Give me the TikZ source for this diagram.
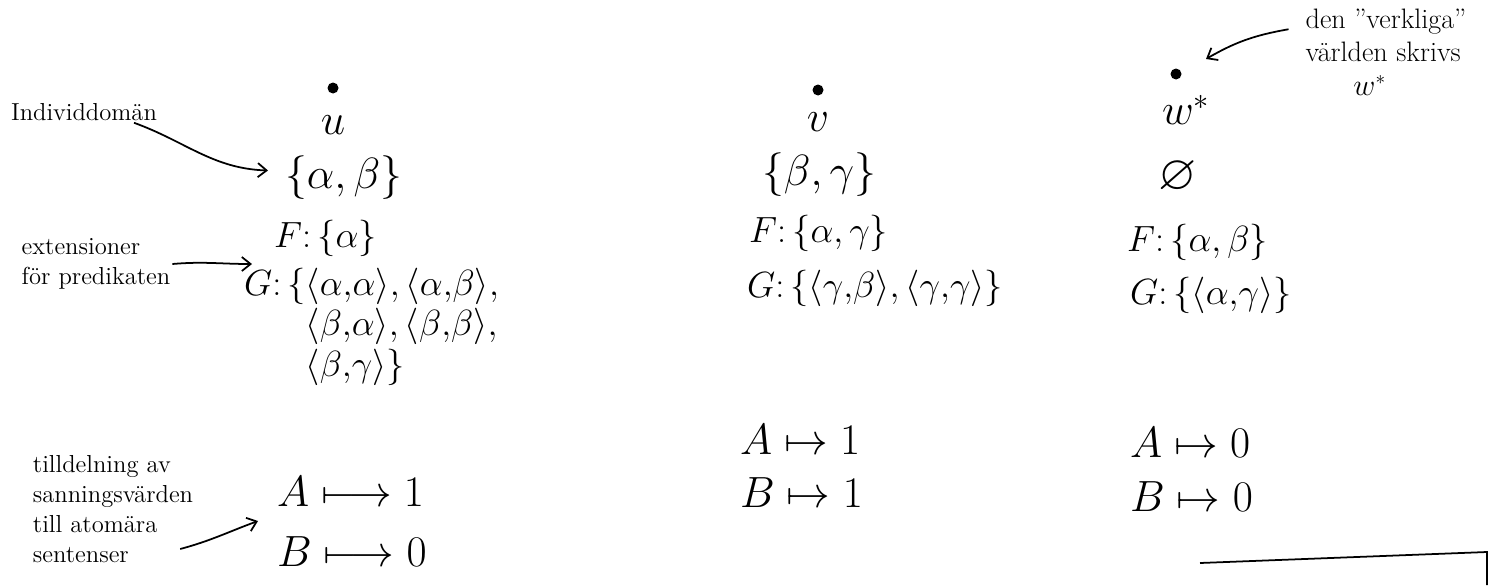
\documentclass[tikz,border=0pt]{standalone}
\usepackage{amssymb}
\usetikzlibrary{positioning, arrows.meta}

\begin{document}
\begin{tikzpicture}[
    x=0.02cm, y=-0.02cm,
    world/.style={circle, fill, inner sep=0pt, minimum size=0.22cm},
    wname/.style={font=\fontsize{24}{27}\selectfont, inner sep=1pt},
    ext/.style={font=\fontsize{24}{27}\selectfont, inner sep=1pt, anchor=west, align=left},
    fext/.style={ext, font=\fontsize{22}{25}\selectfont},
    gext/.style={ext, font=\fontsize{20}{23}\selectfont},
    note/.style={font=\fontsize{14}{17}\selectfont, align=left, inner sep=1pt},
    arrow/.style={-{Straight Barb[length=5pt, width=8pt]}, line width=1pt},
]
\useasboundingbox (0,0) rectangle (1496,585);

% worlds
\foreach \w/\name/\xd/\yd/\xn/\yn in {u/u/333/88/333/125, v/v/818/90/818/122, w/w^{*}/1176/74/1186/110} {
    \node[world] (dot_\w) at (\xd,\yd) {};
    \node[wname] (name_\w) at (\xn,\yn) {$\name$};
}

% world u
\node[ext] (dom_u) at (283,178) {$\{\alpha,\beta\}$};
\node[fext] (F_u) at (272,238) {$F\colon\{\alpha\}$};
\node[gext, anchor=north west] (G_u) at (242,266) {$G\colon\{\langle\alpha{,}\alpha\rangle, \langle\alpha{,}\beta\rangle,$\\$\phantom{G\colon\{}\langle\beta{,}\alpha\rangle, \langle\beta{,}\beta\rangle,$\\$\phantom{G\colon\{}\langle\beta{,}\gamma\rangle\}$};
\node[ext] (A_u) at (275,492) {$A\longmapsto 1$};
\node[ext] (B_u) at (275,552) {$B\longmapsto 0$};

% world v
\node[ext] (dom_v) at (760,175) {$\{\beta,\gamma\}$};
\node[fext] (F_v) at (747,233) {$F\colon\{\alpha,\gamma\}$};
\node[gext] (G_v) at (745,288) {$G\colon\{\langle\gamma{,}\beta\rangle, \langle\gamma{,}\gamma\rangle\}$};
\node[ext] (A_v) at (738,440) {$A\mapsto 1$};
\node[ext] (B_v) at (738,493) {$B\mapsto 1$};

% world w*
\node[wname, font=\fontsize{28}{32}\selectfont] (dom_w) at (1178,177) {$\varnothing$};
\node[fext] (F_w) at (1125,242) {$F\colon\{\alpha,\beta\}$};
\node[gext] (G_w) at (1128,295) {$G\colon\{\langle\alpha{,}\gamma\rangle\}$};
\node[ext] (A_w) at (1128,443) {$A\mapsto 0$};
\node[ext] (B_w) at (1128,497) {$B\mapsto 0$};

% notes
\node[note] (ind) at (84,112) {Individdomän};
\node[note] (extn) at (96,264) {extensioner\\för predikaten};
\node[note] (tv) at (113,509) {tilldelning av\\sanningsvärden\\till atomära\\sentenser};
\node[note, font=\fontsize{16}{19}\selectfont] (real) at (1386,52) {den ''verkliga''\\världen skrivs\\\hspace*{1.7em}$w^{*}$};

\coordinate (ext_tip) at (252,264);
\coordinate (tv_tip) at (258,521);

\draw[arrow] ([xshift=-0.5cm]ind.south east) to[out=-20, in=178] ([shift={(-0.3cm,0.15cm)}]dom_u.west);
\draw[arrow] (extn.east) to[out=5, in=180] (ext_tip);
\draw[arrow] ([xshift=-0.3cm, yshift=-0.8cm]tv.east) to[out=15, in=200] (tv_tip);
\draw[arrow] ([shift={(-0.3cm,-0.45cm)}]real.north west) to[out=190, in=30] ([shift={(0.6cm,0.3cm)}]dot_w.center);

% box edge at the bottom
\draw[line width=1pt] (1200,563) -- (1487,552) -- (1487,585);

\end{tikzpicture}
\end{document}
